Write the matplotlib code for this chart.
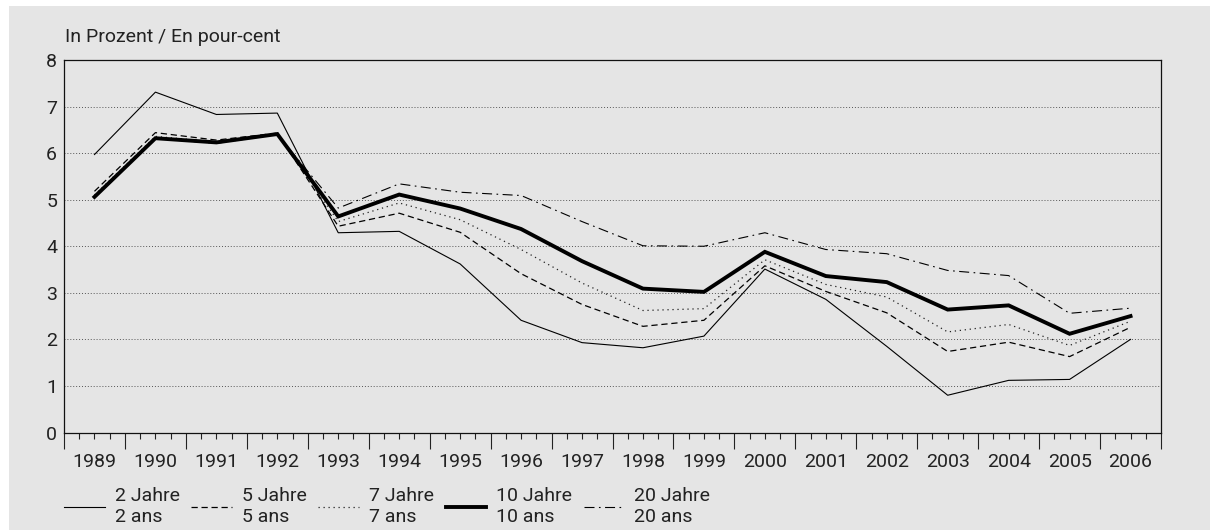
import matplotlib
matplotlib.use('Agg')
import numpy as np
import matplotlib.pyplot as plt
from matplotlib.patches import Rectangle
from matplotlib.ticker import FixedLocator, FuncFormatter

plt.rcParams['font.family'] = ['Roboto', 'DejaVu Sans']
plt.rcParams['font.weight'] = 'normal'
plt.rcParams['text.color'] = '#222222'
plt.rcParams['xtick.labelcolor'] = '#222222'
plt.rcParams['ytick.labelcolor'] = '#222222'

years = list(range(1989, 2007))
y2 = [5.97, 7.31, 6.83, 6.86, 4.29, 4.32, 3.62, 2.41, 1.93, 1.82, 2.07, 3.51, 2.86, 1.85, 0.80, 1.12, 1.14, 2.00]
y5 = [5.18, 6.44, 6.28, 6.43, 4.43, 4.71, 4.30, 3.41, 2.75, 2.28, 2.41, 3.58, 3.03, 2.57, 1.74, 1.94, 1.63, 2.26]
y7 = [5.10, 6.36, 6.24, 6.42, 4.53, 4.93, 4.57, 3.93, 3.21, 2.62, 2.66, 3.71, 3.18, 2.91, 2.16, 2.32, 1.87, 2.39]
y10 = [5.06, 6.32, 6.23, 6.41, 4.64, 5.11, 4.81, 4.37, 3.68, 3.09, 3.02, 3.88, 3.36, 3.23, 2.64, 2.73, 2.12, 2.50]
y20 = [5.04, 6.31, 6.21, 6.40, 4.82, 5.34, 5.16, 5.09, 4.53, 4.01, 4.00, 4.29, 3.93, 3.84, 3.48, 3.37, 2.56, 2.67]
labels = ['2 Jahre\n2 ans', '5 Jahre\n5 ans', '7 Jahre\n7 ans', '10 Jahre\n10 ans', '20 Jahre\n20 ans']

bg = '#e5e5e5'
W, H = 1210, 530
fs = 14
fig = plt.figure(figsize=(W / 100, H / 100), dpi=100, facecolor='white')
fig.patches.append(Rectangle((9 / W, 0), 1 - 9 / W, 1 - 6 / H, transform=fig.transFigure,
                             facecolor=bg, edgecolor='none', zorder=-10))

ax = fig.add_axes([64 / W, 1 - 432.5 / H, (1161 - 64) / W, (432.5 - 60) / H])
ax.set_facecolor(bg)

styles = [
    dict(color='black', lw=0.8, ls='-'),
    dict(color='black', lw=0.9, ls=(0, (5, 3))),
    dict(color='#222222', lw=0.9, ls=(0, (1, 3))),
    dict(color='black', lw=2.8, ls='-'),
    dict(color='black', lw=0.8, ls=(0, (9, 4, 1.5, 4))),
]
series = [y2, y5, y7, y10, y20]
handles = []
for ys, st, lab in zip(series, styles, labels):
    h, = ax.plot(years, ys, label=lab, solid_joinstyle='miter', **st)
    handles.append(h)
# thick line on top
handles[3].set_zorder(5)

ax.set_xlim(1988.5, 2006.5)
ax.set_ylim(0, 8)

ax.set_yticks(range(0, 9))
ax.tick_params(axis='y', length=0, pad=5, labelsize=fs)
for yv in range(1, 8):
    ax.axhline(yv, color='#555555', lw=0.7, ls=(0, (1, 2)), zorder=0.5)

half = np.arange(1988.5, 2006.6, 1.0)
quarters = [v for v in np.arange(1988.75, 2006.5, 0.25) if abs(abs(v - round(v)) - 0.5) > 0.01]
ax.xaxis.set_major_locator(FixedLocator(half))
ax.xaxis.set_major_formatter(FuncFormatter(lambda v, p: ''))
ax.xaxis.set_minor_locator(FixedLocator(quarters))
ax.xaxis.set_minor_formatter(FuncFormatter(lambda v, p: str(int(round(v))) if abs(v - round(v)) < 0.01 else ''))
ax.tick_params(axis='x', which='major', length=11.5, width=0.8, direction='out', color='#222222')
ax.tick_params(axis='x', which='minor', length=4.3, width=0.8, direction='out', color='#222222',
               pad=10.5, labelsize=fs)

for s in ax.spines.values():
    s.set_linewidth(0.9)
    s.set_color('#111111')

fig.text(65 / W, 1 - 37 / H, 'In Prozent / En pour-cent', fontsize=fs, va='center', ha='left')

fig.legend(handles=handles, labels=labels, loc='upper left', bbox_to_anchor=(64 / W, 1 - 487 / H),
           ncol=5, frameon=False, fontsize=fs, handlelength=2.1, handletextpad=0.5,
           columnspacing=0.6, borderpad=0, borderaxespad=0, labelspacing=0)

fig.savefig('out.png', dpi=100, facecolor='white')
